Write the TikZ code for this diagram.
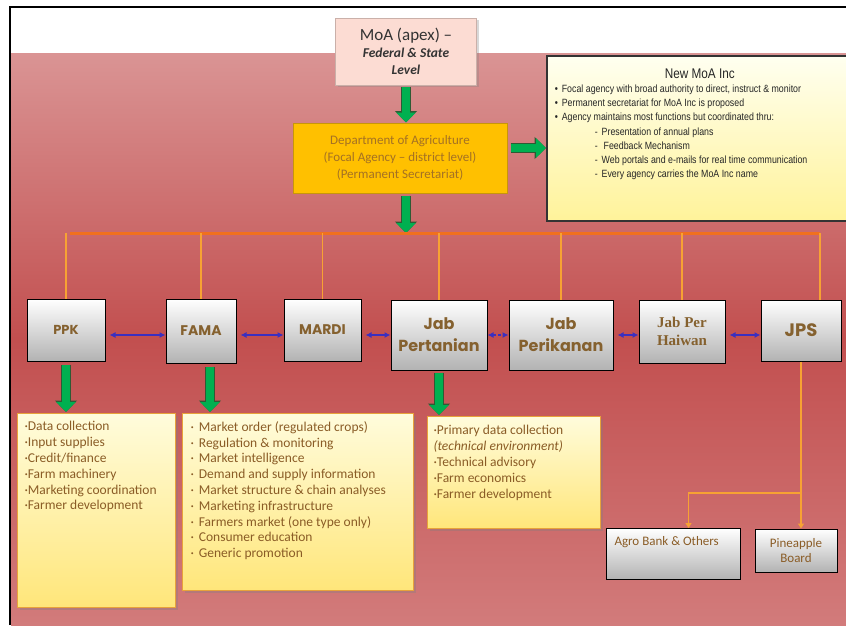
\documentclass[tikz,border=0pt]{standalone}
\usepackage{fontspec}
\setmainfont{Carlito}
\newfontfamily\narrowfont[FakeStretch=0.84]{Liberation Sans}
\newfontfamily\comicfont{Poppins}
\newfontfamily\haiwanfont{Liberation Serif}
\usetikzlibrary{positioning,arrows.meta,shadows}

\definecolor{bgtop}{HTML}{DA9494}
\definecolor{bgmid}{HTML}{C24F4F}
\definecolor{bgbot}{HTML}{D27B7B}
\definecolor{moafill}{HTML}{FCDCD3}
\definecolor{deptfill}{HTML}{FFC000}
\definecolor{deptedge}{HTML}{C8960A}
\definecolor{depttext}{HTML}{A47124}
\definecolor{listtop}{HTML}{FFFCDC}
\definecolor{listbot}{HTML}{FFE67A}
\definecolor{listedge}{HTML}{E8A23A}
\definecolor{browntext}{HTML}{8A5C26}
\definecolor{boxtext}{HTML}{85612F}
\definecolor{arrowgreen}{HTML}{00B050}
\definecolor{arrowedge}{HTML}{2F5A34}
\definecolor{busorange}{HTML}{F0701E}
\definecolor{droporange}{HTML}{F7A233}
\definecolor{linkblue}{HTML}{3A2FC0}
\definecolor{newtop}{HTML}{FFFFF0}
\definecolor{newbot}{HTML}{FFF39A}

\begin{document}
\begin{tikzpicture}[x=1pt,y=-1pt,every node/.style={inner sep=0pt},
  unit/.style={draw=black,line width=1pt,top color=white,bottom color=black!30,text=boxtext,align=center,font=\comicfont},
  duty/.style={draw=listedge,line width=1pt,top color=listtop,bottom color=listbot,text=browntext,anchor=north west,inner xsep=7pt,inner ysep=8pt,drop shadow={opacity=.35,shadow xshift=2pt,shadow yshift=-2pt}},
  bigarrow/.style={line width=8pt,draw=arrowgreen,-{Triangle[width=19pt,length=10pt]},preaction={draw=arrowedge,line width=9.6pt,-{Triangle[width=21.5pt,length=11.5pt]}}},
  link/.style={linkblue,line width=1.2pt,{Latex[length=6pt,width=6pt]}-{Latex[length=6pt,width=6pt]}},
  drop/.style={droporange,line width=1.1pt},
  feed/.style={droporange,line width=1.6pt,-{Triangle[length=5pt,width=6pt]}}]

\clip (0,0) rectangle (846,625);
\fill[white] (0,0) rectangle (846,625);
\shade[top color=bgtop,bottom color=bgbot,middle color=bgmid] (11,53) rectangle (846,625);
\draw[line width=2.5pt,line join=miter] (10,625) -- (10,7) -- (850,7);

% top of the tree
\node[draw=moafill!80!black,fill=moafill,minimum width=141pt,minimum height=67pt,align=center,text=black!80,
  font=\bfseries\itshape\fontsize{13.5}{17}\selectfont,
  drop shadow={opacity=.3,shadow xshift=2pt,shadow yshift=-2pt}] (moa) at (406,51.5)
  {{\normalfont\fontsize{17}{18}\selectfont MoA (apex) --}\\ Federal \& State\\ Level};
\node[draw=deptedge,line width=1pt,fill=deptfill,minimum width=214pt,minimum height=70pt,align=center,text=depttext,
  font=\fontsize{13}{17}\selectfont] (dept) at (400,158)
  {Department of Agriculture\\(Focal Agency -- district level)\\(Permanent Secretariat)};
\node[draw=black!80,line width=1.5pt,top color=newtop,bottom color=newbot,anchor=north west,
  inner xsep=8pt,inner ysep=13pt,text=black!85,font=\narrowfont] (newmoa) at (546,55)
  {\parbox[t][139pt][t]{290pt}{\centering{\fontsize{14}{15}\selectfont New MoA Inc}\par
   \raggedright\fontsize{10.5}{14.2}\selectfont
   \textbullet\hspace{4pt}Focal agency with broad authority to direct, instruct \& monitor\\
   \textbullet\hspace{4pt}Permanent secretariat for MoA Inc is proposed\\
   \textbullet\hspace{4pt}Agency maintains most functions but coordinated thru:\\
   \hspace*{40pt}-\hspace{4pt}Presentation of annual plans\\
   \hspace*{40pt}-\hspace{6pt}Feedback Mechanism\\
   \hspace*{40pt}-\hspace{4pt}Web portals and e-mails for real time communication\\
   \hspace*{40pt}-\hspace{4pt}Every agency carries the MoA Inc name}};

\coordinate (busL) at (70,233);
\coordinate (busR) at (820,233);
\coordinate (busmid) at (406,233);
\coordinate (deptout) at ([yshift=10pt]dept.east);

\draw[bigarrow,shorten <=2pt] (moa.south) -- (moa.south |- dept.north);
\draw[bigarrow,shorten <=3pt] (deptout) -- (deptout -| newmoa.west);
\draw[bigarrow,shorten <=2pt] (dept.south -| busmid) -- (busmid);

% agencies
\node[unit,minimum width=78pt,minimum height=62pt,font=\comicfont\bfseries\fontsize{13}{15}\selectfont] (ppk) at (66,330) {PPK};
\node[unit,minimum width=70pt,minimum height=64pt,font=\comicfont\bfseries\fontsize{14}{16}\selectfont] (fama) at (201,331) {FAMA};
\node[unit,minimum width=77pt,minimum height=62pt,font=\comicfont\bfseries\fontsize{14}{16}\selectfont] (mardi) at (322.5,330) {MARDI};
\node[unit,minimum width=96pt,minimum height=70pt,font=\comicfont\bfseries\fontsize{16}{22}\selectfont] (jabpert) at (439,335) {Jab\\Pertanian};
\node[unit,minimum width=104pt,minimum height=70pt,font=\comicfont\bfseries\fontsize{16}{22}\selectfont] (jabperi) at (561,335) {Jab\\Perikanan};
\node[unit,minimum width=86pt,minimum height=63pt,font=\haiwanfont\bfseries\fontsize{15}{18}\selectfont] (jabhai) at (682,331.5) {Jab Per\\Haiwan};
\node[unit,minimum width=80pt,minimum height=61pt,font=\comicfont\bfseries\fontsize{18}{20}\selectfont] (jps) at (801,330.5) {JPS};

\draw[line width=3pt,busorange] (busL) -- (busR);
\foreach \u in {ppk,fama,mardi,jabpert,jabperi,jabhai}
  \draw[drop] (\u.north |- busL) -- (\u.north);
\draw[drop] (busR) -- (busR |- jps.north);

\coordinate (linky) at (0,335);
\foreach \a/\b in {ppk/fama,fama/mardi,mardi/jabpert,jabperi/jabhai,jabhai/jps}
  \draw[link,shorten <=4pt] (\a.east |- linky) -- (\b.west |- linky);
\draw[link,dash pattern=on 3pt off 2pt] (jabpert.east |- linky) -- (jabperi.west |- linky);

% duties
\node[duty] (ppklist) at (17,413)
  {\parbox[t][178pt][t]{144pt}{\raggedright\fontsize{13.5}{15.8}\selectfont
   ·Data collection\\ ·Input supplies\\ ·Credit/finance\\ ·Farm machinery\\
   ·Marketing coordination\\ ·Farmer development}};
\node[duty,inner xsep=8pt] (famalist) at (182,413)
  {\parbox[t][161pt][t]{215pt}{\raggedright\fontsize{13.5}{15.8}\selectfont
   ·\hspace{5pt}Market order (regulated crops)\\
   ·\hspace{5pt}Regulation \& monitoring\\
   ·\hspace{5pt}Market intelligence\\
   ·\hspace{5pt}Demand and supply information\\
   ·\hspace{5pt}Market structure \& chain analyses\\
   ·\hspace{5pt}Marketing infrastructure\\
   ·\hspace{5pt}Farmers market (one type only)\\
   ·\hspace{5pt}Consumer education\\
   ·\hspace{5pt}Generic promotion}};
\node[duty,inner xsep=6pt,inner ysep=9pt] (pertlist) at (427,416)
  {\parbox[t][94pt][t]{161pt}{\raggedright\fontsize{13.5}{15.8}\selectfont
   ·Primary data collection\\ \textit{(technical environment)}\\
   ·Technical advisory\\ ·Farm economics\\ ·Farmer development}};

\draw[bigarrow,shorten <=3pt,shorten >=1pt] (ppk.south) -- (ppk.south |- ppklist.north);
\draw[bigarrow,shorten <=3pt,shorten >=1pt] ([xshift=9pt]fama.south) -- ([xshift=9pt]fama.south |- famalist.north);
\draw[bigarrow,shorten <=2pt,shorten >=1pt] (jabpert.south) -- (jabpert.south |- pertlist.north);

% under JPS
\node[unit,anchor=north west,inner xsep=8pt,inner ysep=8pt,text=browntext,font=\fontsize{13}{15}\selectfont] (agro) at (606,528)
  {\parbox[t][35pt][t]{118pt}{Agro Bank \& Others}};
\node[unit,minimum width=82pt,minimum height=43pt,text=browntext,font=\fontsize{13}{15}\selectfont] (pineapple) at (796,550.5)
  {Pineapple\\Board};

\coordinate (split) at (0,493);
\draw[feed] (jps.south) -- (jps.south |- pineapple.north);
\draw[feed] (jps.south |- split) -| ([xshift=15pt]agro.north);
\end{tikzpicture}
\end{document}
